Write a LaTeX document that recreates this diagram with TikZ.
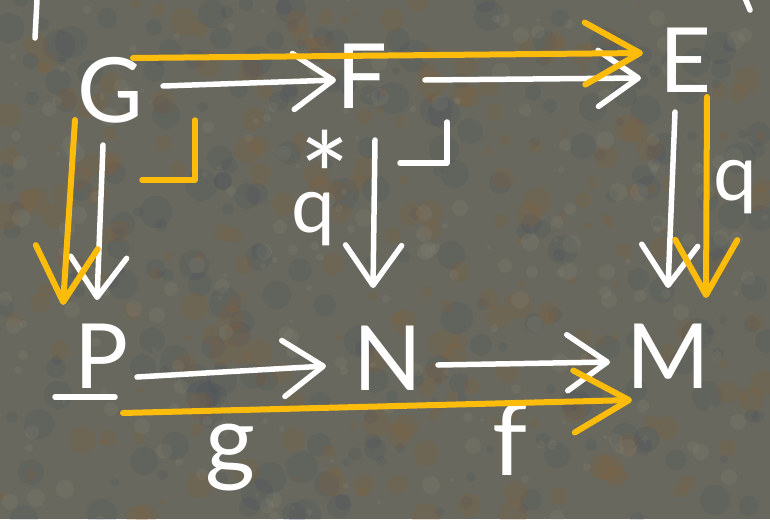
\documentclass[tikz,border=0pt]{standalone}
\usepackage{fontspec}
\setmainfont{Lato}
\usetikzlibrary{arrows.meta,calc}
\definecolor{hl}{RGB}{252,188,12}
\definecolor{stone}{RGB}{104,104,94}
\definecolor{rust}{RGB}{138,96,52}
\definecolor{slate}{RGB}{62,74,88}
\definecolor{lightstone}{RGB}{150,150,135}
\begin{document}
\begin{tikzpicture}[x=1pt,y=-1pt,
  obj/.style={text=white,inner sep=0pt,anchor=base,font=\fontsize{90}{90}\selectfont},
  lbl/.style={text=white,inner sep=0pt,anchor=base,font=\fontsize{78}{78}\selectfont},
  wa/.style={draw=white,line width=5.5pt,line cap=round,line join=round,-{Straight Barb[length=40pt,width=56pt,round]}},
  ya/.style={draw=hl,line width=6pt,line cap=round,line join=round,-{Straight Barb[length=55pt,width=62pt,round]}},
  penstroke/.style={line width=5.5pt,line cap=round,line join=round}]
% background
\fill[stone] (0,0) rectangle (770,519);
\useasboundingbox (0,0) rectangle (770,519);
\pgfmathsetseed{12}
\foreach \i in {1,...,260}{
  \pgfmathsetmacro\px{random(0,770)}
  \pgfmathsetmacro\py{random(0,519)}
  \pgfmathsetmacro\pr{random(4,16)}
  \fill[slate,opacity=0.16] (\px,\py) circle[radius=\pr pt];
}
\foreach \i in {1,...,240}{
  \pgfmathsetmacro\px{random(0,770)}
  \pgfmathsetmacro\py{random(0,519)}
  \pgfmathsetmacro\pr{random(3,14)}
  \fill[rust,opacity=0.2] (\px,\py) circle[radius=\pr pt];
}
\foreach \i in {1,...,220}{
  \pgfmathsetmacro\px{random(0,770)}
  \pgfmathsetmacro\py{random(0,519)}
  \pgfmathsetmacro\pr{random(2,9)}
  \fill[lightstone,opacity=0.14] (\px,\py) circle[radius=\pr pt];
}
% objects
\node[obj] (G) at (110,122) {G};
\node[obj] (F) at (362,108) {F};
\node[obj] (E) at (685,92) {E};
\node[obj] (P) at (102,388) {P};
\node[obj] (N) at (388,390) {N};
\node[obj] (M) at (668,388) {M};
% labels
\node[lbl] (qs) at (313,232) {\rlap{\hspace{8pt}\raisebox{12pt}{\fontsize{120}{120}\selectfont *}}q};
\node[lbl] (q) at (735,200) {q};
\node[lbl,font=\fontsize{96}{96}\selectfont] (g) at (230,473) {g};
\node[lbl,font=\fontsize{100}{100}\selectfont] (f) at (510,475) {f};
% underline of P
\draw[white,penstroke] ($(P.base)+(-47,9)$) -- ($(P.base)+(13,9)$);
% pullback corners
\draw[hl,penstroke] (195,120) -- (195,180) -- (142,180);
\draw[white,penstroke] (447,122) -- (447,163) -- (400,163);
% stray strokes
\draw[white,penstroke] (37,0) -- (35,38);
\draw[white,penstroke] (745,-2) -- (750,10);
% white arrows
\draw[wa] ($(G.base)+(53,-36)$) -- ($(F.base)+(-26,-28)$);
\draw[wa] ($(F.base)+(63,-28)$) -- ($(E.base)+(-44,-14)$);
\draw[wa] ($(G.base)+(-7,23)$) -- ($(P.base)+(-5,-88)$);
\draw[wa] ($(F.base)+(13,32)$) -- ($(N.base)+(-15,-102)$);
\draw[wa] ($(E.base)+(-10,20)$) -- ($(M.base)+(0,-100)$);
\draw[wa] ($(P.base)+(35,-11)$) -- ($(N.base)+(-62,-24)$);
\draw[wa] ($(N.base)+(50,-25)$) -- ($(M.base)+(-58,-26)$);
% yellow arrows
\draw[ya] ($(G.base)+(23,-64)$) -- ($(E.base)+(-42,-39)$);
\draw[ya] ($(G.base)+(-35,-2)$) -- ($(P.base)+(-39,-83)$);
\draw[ya] ($(E.base)+(22,5)$) -- ($(M.base)+(38,-90)$);
\draw[ya] ($(P.base)+(21,25)$) -- ($(M.base)+(-36,12)$);
\end{tikzpicture}
\end{document}
